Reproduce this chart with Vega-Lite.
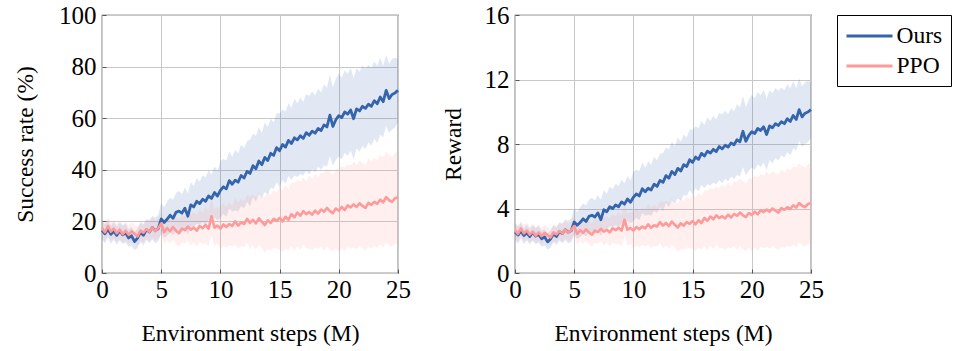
{
"$schema":"https://vega.github.io/schema/vega-lite/v6.json",
"padding":{"left":12,"top":2,"right":0,"bottom":0},
"config":{
"font":"Liberation Serif",
"view":{"stroke":"#3a3a3a","strokeWidth":1.2},
"axis":{"grid":true,"gridColor":"#c8c8c8","gridWidth":1,"domain":false,"tickColor":"#555555","tickSize":-4,"labelFont":"Liberation Serif","labelFontSize":25,"labelColor":"#000000","titleFont":"Liberation Serif","titleFontSize":23.5,"titleFontWeight":"normal","titleColor":"#000000","labelFlush":false,"labelOverlap":false},
"legend":{"orient":"right","offset":12,"padding":8,"strokeColor":"#000000","labelFont":"Liberation Serif","labelFontSize":23.5,"labelColor":"#000000","symbolType":"M-1,0H3","symbolSize":529,"symbolStrokeWidth":3,"rowPadding":5,"labelOffset":25.5}
},
"datasets":{
"A":[
{"x":0,"om":16.5,"ol":13.0,"oh":20.2,"pm":17.4,"pl":14.0,"ph":21.0},
{"x":0.25,"om":15.2,"ol":11.5,"oh":18.9,"pm":15.8,"pl":12.2,"ph":19.4},
{"x":0.5,"om":17.0,"ol":13.8,"oh":20.6,"pm":18.2,"pl":14.8,"ph":21.6},
{"x":0.75,"om":15.0,"ol":11.2,"oh":18.3,"pm":16.0,"pl":12.4,"ph":19.8},
{"x":1,"om":16.2,"ol":12.9,"oh":19.8,"pm":17.2,"pl":13.6,"ph":20.6},
{"x":1.25,"om":14.6,"ol":11.0,"oh":18.0,"pm":15.4,"pl":11.8,"ph":19.0},
{"x":1.5,"om":16.4,"ol":12.7,"oh":19.6,"pm":16.8,"pl":13.2,"ph":20.4},
{"x":1.75,"om":14.8,"ol":11.3,"oh":18.4,"pm":15.0,"pl":11.4,"ph":18.4},
{"x":2,"om":15.5,"ol":11.8,"oh":19.2,"pm":16.4,"pl":12.8,"ph":20.0},
{"x":2.25,"om":13.6,"ol":10.2,"oh":17.0,"pm":14.8,"pl":11.0,"ph":18.4},
{"x":2.5,"om":14.4,"ol":10.6,"oh":17.8,"pm":16.2,"pl":12.6,"ph":19.8},
{"x":2.75,"om":12.2,"ol":8.8,"oh":15.9,"pm":15.2,"pl":11.8,"ph":18.8},
{"x":3,"om":13.5,"ol":9.6,"oh":17.2,"pm":14.2,"pl":10.6,"ph":17.8},
{"x":3.25,"om":15.8,"ol":12.0,"oh":19.6,"pm":16.4,"pl":12.6,"ph":20.0},
{"x":3.5,"om":14.6,"ol":10.8,"oh":18.6,"pm":15.6,"pl":12.0,"ph":19.4},
{"x":3.75,"om":16.8,"ol":12.8,"oh":20.9,"pm":17.0,"pl":13.4,"ph":20.6},
{"x":4,"om":15.9,"ol":11.6,"oh":20.4,"pm":16.0,"pl":12.2,"ph":19.8},
{"x":4.25,"om":17.6,"ol":13.0,"oh":22.2,"pm":17.6,"pl":13.8,"ph":21.4},
{"x":4.5,"om":16.4,"ol":11.6,"oh":21.4,"pm":16.2,"pl":12.4,"ph":20.2},
{"x":4.75,"om":17.2,"ol":12.2,"oh":22.6,"pm":17.4,"pl":13.4,"ph":21.2},
{"x":5,"om":21.0,"ol":15.4,"oh":27.2,"pm":19.2,"pl":14.6,"ph":23.8},
{"x":5.25,"om":19.6,"ol":13.6,"oh":25.4,"pm":15.8,"pl":11.2,"ph":20.6},
{"x":5.5,"om":20.8,"ol":14.4,"oh":27.6,"pm":17.4,"pl":12.6,"ph":22.2},
{"x":5.75,"om":22.4,"ol":15.6,"oh":29.2,"pm":16.2,"pl":11.4,"ph":21.2},
{"x":6,"om":21.2,"ol":14.6,"oh":28.4,"pm":17.8,"pl":12.8,"ph":22.8},
{"x":6.25,"om":23.5,"ol":16.2,"oh":31.0,"pm":16.4,"pl":11.2,"ph":21.6},
{"x":6.5,"om":24.0,"ol":16.4,"oh":31.8,"pm":15.4,"pl":10.2,"ph":20.6},
{"x":6.75,"om":23.2,"ol":15.8,"oh":30.6,"pm":17.2,"pl":11.8,"ph":22.6},
{"x":7,"om":25.1,"ol":17.2,"oh":33.0,"pm":16.6,"pl":11.4,"ph":22.0},
{"x":7.25,"om":22.0,"ol":14.8,"oh":30.8,"pm":18.0,"pl":12.6,"ph":23.4},
{"x":7.5,"om":26.4,"ol":18.0,"oh":35.2,"pm":16.8,"pl":10.6,"ph":23.0},
{"x":7.75,"om":25.6,"ol":17.8,"oh":33.6,"pm":17.6,"pl":11.8,"ph":23.6},
{"x":8,"om":27.8,"ol":19.2,"oh":36.8,"pm":16.4,"pl":10.2,"ph":22.6},
{"x":8.25,"om":26.9,"ol":18.6,"oh":35.4,"pm":18.2,"pl":12.0,"ph":24.6},
{"x":8.5,"om":28.6,"ol":19.8,"oh":38.0,"pm":17.4,"pl":11.2,"ph":23.4},
{"x":8.75,"om":27.8,"ol":18.4,"oh":37.0,"pm":18.6,"pl":11.4,"ph":25.8},
{"x":9,"om":29.9,"ol":20.6,"oh":39.8,"pm":17.2,"pl":10.4,"ph":24.0},
{"x":9.25,"om":28.9,"ol":19.4,"oh":38.2,"pm":22.0,"pl":14.6,"ph":29.4},
{"x":9.5,"om":31.2,"ol":21.6,"oh":41.4,"pm":17.6,"pl":10.4,"ph":24.8},
{"x":9.75,"om":29.8,"ol":20.4,"oh":39.4,"pm":18.4,"pl":11.6,"ph":25.4},
{"x":10,"om":32.0,"ol":21.2,"oh":43.4,"pm":17.2,"pl":9.0,"ph":25.4},
{"x":10.25,"om":33.4,"ol":23.0,"oh":44.2,"pm":18.8,"pl":10.6,"ph":27.2},
{"x":10.5,"om":32.6,"ol":21.8,"oh":43.6,"pm":17.8,"pl":9.8,"ph":25.6},
{"x":10.75,"om":35.8,"ol":25.0,"oh":47.2,"pm":19.0,"pl":10.8,"ph":27.4},
{"x":11,"om":34.4,"ol":23.8,"oh":45.0,"pm":18.2,"pl":10.4,"ph":26.0},
{"x":11.25,"om":36.0,"ol":24.2,"oh":47.8,"pm":20.0,"pl":10.8,"ph":29.2},
{"x":11.5,"om":35.2,"ol":23.8,"oh":46.4,"pm":18.4,"pl":9.6,"ph":27.2},
{"x":11.75,"om":37.8,"ol":26.0,"oh":49.8,"pm":19.6,"pl":10.4,"ph":28.8},
{"x":12,"om":36.8,"ol":25.0,"oh":48.4,"pm":19.0,"pl":10.2,"ph":27.6},
{"x":12.25,"om":39.4,"ol":27.6,"oh":51.2,"pm":21.0,"pl":11.8,"ph":30.2},
{"x":12.5,"om":38.6,"ol":25.8,"oh":51.6,"pm":19.4,"pl":9.2,"ph":29.8},
{"x":12.75,"om":41.6,"ol":29.4,"oh":54.0,"pm":20.6,"pl":10.8,"ph":30.4},
{"x":13,"om":40.4,"ol":27.6,"oh":53.2,"pm":19.2,"pl":9.0,"ph":29.6},
{"x":13.25,"om":43.4,"ol":30.8,"oh":56.4,"pm":21.2,"pl":11.0,"ph":31.6},
{"x":13.5,"om":42.0,"ol":29.2,"oh":54.4,"pm":19.8,"pl":10.0,"ph":29.8},
{"x":13.75,"om":44.8,"ol":31.4,"oh":58.4,"pm":18.6,"pl":7.8,"ph":29.4},
{"x":14,"om":43.6,"ol":30.6,"oh":56.6,"pm":20.4,"pl":9.2,"ph":31.8},
{"x":14.25,"om":46.4,"ol":33.0,"oh":59.8,"pm":19.4,"pl":8.6,"ph":30.2},
{"x":14.5,"om":45.6,"ol":32.6,"oh":58.4,"pm":21.0,"pl":9.8,"ph":32.4},
{"x":14.75,"om":48.6,"ol":35.2,"oh":62.0,"pm":20.2,"pl":9.4,"ph":31.0},
{"x":15,"om":47.4,"ol":33.2,"oh":61.8,"pm":21.4,"pl":9.2,"ph":33.8},
{"x":15.25,"om":49.8,"ol":36.0,"oh":63.4,"pm":20.0,"pl":8.2,"ph":31.8},
{"x":15.5,"om":48.8,"ol":34.6,"oh":62.6,"pm":21.8,"pl":9.6,"ph":34.2},
{"x":15.75,"om":51.4,"ol":37.6,"oh":65.8,"pm":20.6,"pl":8.8,"ph":32.4},
{"x":16,"om":50.2,"ol":36.0,"oh":64.0,"pm":22.8,"pl":10.6,"ph":35.2},
{"x":16.25,"om":52.4,"ol":37.8,"oh":67.4,"pm":21.6,"pl":8.4,"ph":34.8},
{"x":16.5,"om":51.6,"ol":37.2,"oh":65.8,"pm":23.4,"pl":10.6,"ph":36.2},
{"x":16.75,"om":53.2,"ol":38.4,"oh":68.0,"pm":22.2,"pl":9.0,"ph":35.4},
{"x":17,"om":52.2,"ol":37.8,"oh":66.4,"pm":24.0,"pl":11.2,"ph":37.0},
{"x":17.25,"om":54.4,"ol":39.6,"oh":69.4,"pm":22.8,"pl":9.6,"ph":35.8},
{"x":17.5,"om":53.4,"ol":38.2,"oh":68.6,"pm":23.6,"pl":9.4,"ph":37.8},
{"x":17.75,"om":55.0,"ol":40.2,"oh":70.4,"pm":22.6,"pl":8.8,"ph":36.4},
{"x":18,"om":54.2,"ol":39.0,"oh":68.8,"pm":24.2,"pl":10.0,"ph":38.6},
{"x":18.25,"om":56.0,"ol":41.2,"oh":71.4,"pm":23.0,"pl":9.2,"ph":36.8},
{"x":18.5,"om":55.2,"ol":40.0,"oh":70.0,"pm":24.6,"pl":10.4,"ph":39.0},
{"x":18.75,"om":57.4,"ol":41.8,"oh":73.2,"pm":23.8,"pl":8.6,"ph":38.8},
{"x":19,"om":56.6,"ol":41.2,"oh":71.8,"pm":25.2,"pl":10.4,"ph":40.4},
{"x":19.25,"om":61.2,"ol":45.4,"oh":77.0,"pm":24.0,"pl":9.0,"ph":39.2},
{"x":19.5,"om":56.8,"ol":41.6,"oh":72.0,"pm":23.2,"pl":8.2,"ph":38.0},
{"x":19.75,"om":59.4,"ol":43.8,"oh":75.2,"pm":25.0,"pl":9.8,"ph":40.2},
{"x":20,"om":61.0,"ol":45.2,"oh":77.4,"pm":24.2,"pl":8.0,"ph":40.4},
{"x":20.25,"om":60.2,"ol":44.0,"oh":75.8,"pm":25.6,"pl":9.8,"ph":41.4},
{"x":20.5,"om":62.4,"ol":46.6,"oh":78.6,"pm":24.4,"pl":8.2,"ph":40.8},
{"x":20.75,"om":61.6,"ol":45.4,"oh":77.2,"pm":26.2,"pl":10.2,"ph":42.2},
{"x":21,"om":63.2,"ol":47.4,"oh":79.6,"pm":25.4,"pl":9.4,"ph":41.6},
{"x":21.25,"om":59.8,"ol":44.0,"oh":75.6,"pm":26.6,"pl":10.0,"ph":43.2},
{"x":21.5,"om":63.6,"ol":48.4,"oh":79.4,"pm":25.6,"pl":9.2,"ph":42.0},
{"x":21.75,"om":62.8,"ol":47.0,"oh":78.0,"pm":27.0,"pl":10.6,"ph":43.6},
{"x":22,"om":64.6,"ol":49.2,"oh":80.4,"pm":26.0,"pl":9.4,"ph":42.6},
{"x":22.25,"om":63.8,"ol":48.2,"oh":79.2,"pm":25.2,"pl":8.6,"ph":41.8},
{"x":22.5,"om":65.4,"ol":50.6,"oh":80.6,"pm":27.2,"pl":10.0,"ph":44.4},
{"x":22.75,"om":64.6,"ol":49.4,"oh":79.4,"pm":26.4,"pl":9.6,"ph":43.2},
{"x":23,"om":66.8,"ol":52.0,"oh":82.0,"pm":27.6,"pl":10.4,"ph":44.8},
{"x":23.25,"om":65.6,"ol":50.4,"oh":80.2,"pm":26.8,"pl":9.8,"ph":43.8},
{"x":23.5,"om":68.2,"ol":53.6,"oh":83.4,"pm":28.4,"pl":11.2,"ph":45.6},
{"x":23.75,"om":66.4,"ol":52.6,"oh":80.2,"pm":27.4,"pl":9.8,"ph":45.0},
{"x":24,"om":70.8,"ol":57.0,"oh":84.6,"pm":29.4,"pl":12.0,"ph":47.0},
{"x":24.25,"om":67.6,"ol":54.4,"oh":81.0,"pm":28.2,"pl":10.6,"ph":45.8},
{"x":24.5,"om":69.2,"ol":55.6,"oh":83.0,"pm":27.6,"pl":10.2,"ph":45.0},
{"x":24.75,"om":69.8,"ol":56.4,"oh":83.4,"pm":29.0,"pl":11.4,"ph":46.6},
{"x":25,"om":70.8,"ol":58.4,"oh":83.0,"pm":29.4,"pl":11.4,"ph":47.4}
],
"B":[
{"x":0,"om":2.53,"ol":2.04,"oh":3.05,"pm":2.66,"pl":2.18,"ph":3.16},
{"x":0.25,"om":2.35,"ol":1.83,"oh":2.87,"pm":2.43,"pl":1.93,"ph":2.94},
{"x":0.5,"om":2.60,"ol":2.15,"oh":3.10,"pm":2.77,"pl":2.29,"ph":3.24},
{"x":0.75,"om":2.32,"ol":1.79,"oh":2.78,"pm":2.46,"pl":1.96,"ph":2.99},
{"x":1,"om":2.49,"ol":2.03,"oh":2.99,"pm":2.63,"pl":2.12,"ph":3.10},
{"x":1.25,"om":2.26,"ol":1.76,"oh":2.74,"pm":2.38,"pl":1.87,"ph":2.88},
{"x":1.5,"om":2.52,"ol":2.00,"oh":2.96,"pm":2.57,"pl":2.07,"ph":3.08},
{"x":1.75,"om":2.29,"ol":1.80,"oh":2.80,"pm":2.32,"pl":1.82,"ph":2.80},
{"x":2,"om":2.39,"ol":1.87,"oh":2.91,"pm":2.52,"pl":2.01,"ph":3.02},
{"x":2.25,"om":2.12,"ol":1.65,"oh":2.60,"pm":2.29,"pl":1.76,"ph":2.80},
{"x":2.5,"om":2.24,"ol":1.70,"oh":2.71,"pm":2.49,"pl":1.98,"ph":2.99},
{"x":2.75,"om":1.93,"ol":1.45,"oh":2.45,"pm":2.35,"pl":1.87,"ph":2.85},
{"x":3,"om":2.11,"ol":1.56,"oh":2.63,"pm":2.21,"pl":1.70,"ph":2.71},
{"x":3.25,"om":2.43,"ol":1.90,"oh":2.96,"pm":2.52,"pl":1.98,"ph":3.02},
{"x":3.5,"om":2.26,"ol":1.73,"oh":2.82,"pm":2.40,"pl":1.90,"ph":2.94},
{"x":3.75,"om":2.57,"ol":2.01,"oh":3.15,"pm":2.60,"pl":2.10,"ph":3.10},
{"x":4,"om":2.45,"ol":1.84,"oh":3.08,"pm":2.46,"pl":1.93,"ph":2.99},
{"x":4.25,"om":2.68,"ol":2.04,"oh":3.33,"pm":2.68,"pl":2.15,"ph":3.22},
{"x":4.5,"om":2.52,"ol":1.84,"oh":3.22,"pm":2.49,"pl":1.96,"ph":3.05},
{"x":4.75,"om":2.63,"ol":1.93,"oh":3.38,"pm":2.66,"pl":2.10,"ph":3.19},
{"x":5,"om":3.16,"ol":2.38,"oh":4.03,"pm":2.91,"pl":2.26,"ph":3.55},
{"x":5.25,"om":2.96,"ol":2.12,"oh":3.78,"pm":2.43,"pl":1.79,"ph":3.10},
{"x":5.5,"om":3.13,"ol":2.24,"oh":4.08,"pm":2.66,"pl":1.98,"ph":3.33},
{"x":5.75,"om":3.36,"ol":2.40,"oh":4.31,"pm":2.49,"pl":1.82,"ph":3.19},
{"x":6,"om":3.19,"ol":2.26,"oh":4.20,"pm":2.71,"pl":2.01,"ph":3.41},
{"x":6.25,"om":3.51,"ol":2.49,"oh":4.56,"pm":2.52,"pl":1.79,"ph":3.24},
{"x":6.5,"om":3.58,"ol":2.52,"oh":4.67,"pm":2.38,"pl":1.65,"ph":3.10},
{"x":6.75,"om":3.47,"ol":2.43,"oh":4.50,"pm":2.63,"pl":1.87,"ph":3.38},
{"x":7,"om":3.73,"ol":2.63,"oh":4.84,"pm":2.54,"pl":1.82,"ph":3.30},
{"x":7.25,"om":3.30,"ol":2.29,"oh":4.53,"pm":2.74,"pl":1.98,"ph":3.50},
{"x":7.5,"om":3.92,"ol":2.74,"oh":5.15,"pm":2.57,"pl":1.70,"ph":3.44},
{"x":7.75,"om":3.80,"ol":2.71,"oh":4.92,"pm":2.68,"pl":1.87,"ph":3.52},
{"x":8,"om":4.11,"ol":2.91,"oh":5.37,"pm":2.52,"pl":1.65,"ph":3.38},
{"x":8.25,"om":3.99,"ol":2.82,"oh":5.18,"pm":2.77,"pl":1.90,"ph":3.66},
{"x":8.5,"om":4.22,"ol":2.99,"oh":5.54,"pm":2.66,"pl":1.79,"ph":3.50},
{"x":8.75,"om":4.11,"ol":2.80,"oh":5.40,"pm":2.80,"pl":1.82,"ph":3.83},
{"x":9,"om":4.41,"ol":3.10,"oh":5.79,"pm":2.63,"pl":1.68,"ph":3.58},
{"x":9.25,"om":4.27,"ol":2.94,"oh":5.57,"pm":3.30,"pl":2.26,"ph":4.34},
{"x":9.5,"om":4.59,"ol":3.24,"oh":6.02,"pm":2.68,"pl":1.68,"ph":3.69},
{"x":9.75,"om":4.39,"ol":3.08,"oh":5.74,"pm":2.80,"pl":1.84,"ph":3.78},
{"x":10,"om":4.70,"ol":3.19,"oh":6.30,"pm":2.63,"pl":1.48,"ph":3.78},
{"x":10.25,"om":4.90,"ol":3.44,"oh":6.41,"pm":2.85,"pl":1.70,"ph":4.03},
{"x":10.5,"om":4.78,"ol":3.27,"oh":6.32,"pm":2.71,"pl":1.59,"ph":3.80},
{"x":10.75,"om":5.23,"ol":3.72,"oh":6.83,"pm":2.88,"pl":1.73,"ph":4.06},
{"x":11,"om":5.04,"ol":3.55,"oh":6.52,"pm":2.77,"pl":1.68,"ph":3.86},
{"x":11.25,"om":5.26,"ol":3.61,"oh":6.91,"pm":3.02,"pl":1.73,"ph":4.31},
{"x":11.5,"om":5.15,"ol":3.55,"oh":6.72,"pm":2.80,"pl":1.56,"ph":4.03},
{"x":11.75,"om":5.51,"ol":3.86,"oh":7.19,"pm":2.96,"pl":1.68,"ph":4.25},
{"x":12,"om":5.37,"ol":3.72,"oh":7.00,"pm":2.88,"pl":1.65,"ph":4.08},
{"x":12.25,"om":5.74,"ol":4.08,"oh":7.39,"pm":3.16,"pl":1.87,"ph":4.45},
{"x":12.5,"om":5.62,"ol":3.83,"oh":7.44,"pm":2.94,"pl":1.51,"ph":4.39},
{"x":12.75,"om":6.04,"ol":4.34,"oh":7.78,"pm":3.10,"pl":1.73,"ph":4.48},
{"x":13,"om":5.88,"ol":4.08,"oh":7.67,"pm":2.91,"pl":1.48,"ph":4.36},
{"x":13.25,"om":6.30,"ol":4.53,"oh":8.12,"pm":3.19,"pl":1.76,"ph":4.64},
{"x":13.5,"om":6.10,"ol":4.31,"oh":7.84,"pm":2.99,"pl":1.62,"ph":4.39},
{"x":13.75,"om":6.49,"ol":4.62,"oh":8.40,"pm":2.82,"pl":1.31,"ph":4.34},
{"x":14,"om":6.32,"ol":4.50,"oh":8.14,"pm":3.08,"pl":1.51,"ph":4.67},
{"x":14.25,"om":6.72,"ol":4.84,"oh":8.59,"pm":2.94,"pl":1.42,"ph":4.45},
{"x":14.5,"om":6.60,"ol":4.78,"oh":8.40,"pm":3.16,"pl":1.59,"ph":4.76},
{"x":14.75,"om":7.02,"ol":5.15,"oh":8.90,"pm":3.05,"pl":1.54,"ph":4.56},
{"x":15,"om":6.86,"ol":4.87,"oh":8.87,"pm":3.22,"pl":1.51,"ph":4.95},
{"x":15.25,"om":7.19,"ol":5.26,"oh":9.10,"pm":3.02,"pl":1.37,"ph":4.67},
{"x":15.5,"om":7.05,"ol":5.06,"oh":8.98,"pm":3.27,"pl":1.56,"ph":5.01},
{"x":15.75,"om":7.42,"ol":5.48,"oh":9.43,"pm":3.10,"pl":1.45,"ph":4.76},
{"x":16,"om":7.25,"ol":5.26,"oh":9.18,"pm":3.41,"pl":1.70,"ph":5.15},
{"x":16.25,"om":7.56,"ol":5.51,"oh":9.66,"pm":3.24,"pl":1.40,"ph":5.09},
{"x":16.5,"om":7.44,"ol":5.43,"oh":9.43,"pm":3.50,"pl":1.70,"ph":5.29},
{"x":16.75,"om":7.67,"ol":5.60,"oh":9.74,"pm":3.33,"pl":1.48,"ph":5.18},
{"x":17,"om":7.53,"ol":5.51,"oh":9.52,"pm":3.58,"pl":1.79,"ph":5.40},
{"x":17.25,"om":7.84,"ol":5.76,"oh":9.94,"pm":3.41,"pl":1.56,"ph":5.23},
{"x":17.5,"om":7.70,"ol":5.57,"oh":9.82,"pm":3.52,"pl":1.54,"ph":5.51},
{"x":17.75,"om":7.92,"ol":5.85,"oh":10.08,"pm":3.38,"pl":1.45,"ph":5.32},
{"x":18,"om":7.81,"ol":5.68,"oh":9.85,"pm":3.61,"pl":1.62,"ph":5.62},
{"x":18.25,"om":8.06,"ol":5.99,"oh":10.22,"pm":3.44,"pl":1.51,"ph":5.37},
{"x":18.5,"om":7.95,"ol":5.82,"oh":10.02,"pm":3.66,"pl":1.68,"ph":5.68},
{"x":18.75,"om":8.26,"ol":6.07,"oh":10.47,"pm":3.55,"pl":1.42,"ph":5.65},
{"x":19,"om":8.14,"ol":5.99,"oh":10.27,"pm":3.75,"pl":1.68,"ph":5.88},
{"x":19.25,"om":8.79,"ol":6.58,"oh":11.00,"pm":3.58,"pl":1.48,"ph":5.71},
{"x":19.5,"om":8.17,"ol":6.04,"oh":10.30,"pm":3.47,"pl":1.37,"ph":5.54},
{"x":19.75,"om":8.54,"ol":6.35,"oh":10.75,"pm":3.72,"pl":1.59,"ph":5.85},
{"x":20,"om":8.76,"ol":6.55,"oh":11.06,"pm":3.61,"pl":1.34,"ph":5.88},
{"x":20.25,"om":8.65,"ol":6.38,"oh":10.83,"pm":3.80,"pl":1.59,"ph":6.02},
{"x":20.5,"om":8.96,"ol":6.74,"oh":11.22,"pm":3.64,"pl":1.37,"ph":5.93},
{"x":20.75,"om":8.84,"ol":6.58,"oh":11.03,"pm":3.89,"pl":1.65,"ph":6.13},
{"x":21,"om":9.07,"ol":6.86,"oh":11.36,"pm":3.78,"pl":1.54,"ph":6.04},
{"x":21.25,"om":8.59,"ol":6.38,"oh":10.80,"pm":3.94,"pl":1.62,"ph":6.27},
{"x":21.5,"om":9.12,"ol":7.00,"oh":11.34,"pm":3.80,"pl":1.51,"ph":6.10},
{"x":21.75,"om":9.01,"ol":6.80,"oh":11.14,"pm":4.00,"pl":1.70,"ph":6.32},
{"x":22,"om":9.26,"ol":7.11,"oh":11.48,"pm":3.86,"pl":1.54,"ph":6.18},
{"x":22.25,"om":9.15,"ol":6.97,"oh":11.31,"pm":3.75,"pl":1.42,"ph":6.07},
{"x":22.5,"om":9.38,"ol":7.30,"oh":11.50,"pm":4.03,"pl":1.62,"ph":6.44},
{"x":22.75,"om":9.26,"ol":7.14,"oh":11.34,"pm":3.92,"pl":1.56,"ph":6.27},
{"x":23,"om":9.57,"ol":7.50,"oh":11.70,"pm":4.08,"pl":1.68,"ph":6.49},
{"x":23.25,"om":9.40,"ol":7.28,"oh":11.45,"pm":3.97,"pl":1.59,"ph":6.35},
{"x":23.5,"om":9.77,"ol":7.72,"oh":11.90,"pm":4.20,"pl":1.79,"ph":6.60},
{"x":23.75,"om":9.52,"ol":7.58,"oh":11.45,"pm":4.06,"pl":1.59,"ph":6.52},
{"x":24,"om":10.13,"ol":8.20,"oh":12.06,"pm":4.34,"pl":1.90,"ph":6.80},
{"x":24.25,"om":9.68,"ol":7.84,"oh":11.56,"pm":4.17,"pl":1.70,"ph":6.63},
{"x":24.5,"om":9.91,"ol":8.00,"oh":11.84,"pm":4.08,"pl":1.65,"ph":6.52},
{"x":24.75,"om":9.99,"ol":8.12,"oh":11.90,"pm":4.28,"pl":1.82,"ph":6.74},
{"x":25,"om":10.13,"ol":8.40,"oh":11.84,"pm":4.34,"pl":1.82,"ph":6.86}
]
},
"hconcat":[
{
"width":296,"height":258,
"data":{"name":"A"},
"encoding":{"x":{"field":"x","type":"quantitative","scale":{"domain":[0,25],"nice":false},"axis":{"values":[0,5,10,15,20,25],"title":"Environment steps (M)","labelPadding":8,"titleY":48.5}}},
"layer":[
{"mark":{"type":"area","color":"#3464ac","opacity":0.15},"encoding":{"y":{"field":"ol","type":"quantitative","title":"Success rate (%)","scale":{"domain":[0,100],"nice":false},"axis":{"values":[0,20,40,60,80,100],"labelPadding":10,"titleX":-64.5,"titleY":129}},"y2":{"field":"oh"}}},
{"mark":{"type":"area","color":"#ff9a9a","opacity":0.16},"encoding":{"y":{"field":"pl","type":"quantitative","title":"Success rate (%)"},"y2":{"field":"ph"}}},
{"mark":{"type":"line","strokeWidth":2.8,"strokeJoin":"round"},"encoding":{"y":{"field":"om","type":"quantitative","title":"Success rate (%)"},"color":{"datum":"Ours","type":"nominal","title":null,"scale":{"domain":["Ours","PPO"],"range":["#3464ac","#ff9a9a"]}}}},
{"mark":{"type":"line","strokeWidth":2.6,"strokeJoin":"round"},"encoding":{"y":{"field":"pm","type":"quantitative","title":"Success rate (%)"},"color":{"datum":"PPO","type":"nominal","title":null}}}
]
},
{
"width":296,"height":258,
"data":{"name":"B"},
"encoding":{"x":{"field":"x","type":"quantitative","scale":{"domain":[0,25],"nice":false},"axis":{"values":[0,5,10,15,20,25],"title":"Environment steps (M)","labelPadding":8,"titleY":48.5}}},
"layer":[
{"mark":{"type":"area","color":"#3464ac","opacity":0.15},"encoding":{"y":{"field":"ol","type":"quantitative","title":"Reward","scale":{"domain":[0,16],"nice":false},"axis":{"values":[0,4,8,12,16],"labelPadding":10,"titleX":-50,"titleY":129}},"y2":{"field":"oh"}}},
{"mark":{"type":"area","color":"#ff9a9a","opacity":0.16},"encoding":{"y":{"field":"pl","type":"quantitative","title":"Reward"},"y2":{"field":"ph"}}},
{"mark":{"type":"line","strokeWidth":2.8,"strokeJoin":"round"},"encoding":{"y":{"field":"om","type":"quantitative","title":"Reward"},"color":{"datum":"Ours","type":"nominal","title":null,"scale":{"domain":["Ours","PPO"],"range":["#3464ac","#ff9a9a"]}}}},
{"mark":{"type":"line","strokeWidth":2.6,"strokeJoin":"round"},"encoding":{"y":{"field":"pm","type":"quantitative","title":"Reward"},"color":{"datum":"PPO","type":"nominal","title":null}}}
]
}
],
"spacing":28,
"resolve":{"scale":{"color":"shared"},"legend":{"color":"shared"}}
}
